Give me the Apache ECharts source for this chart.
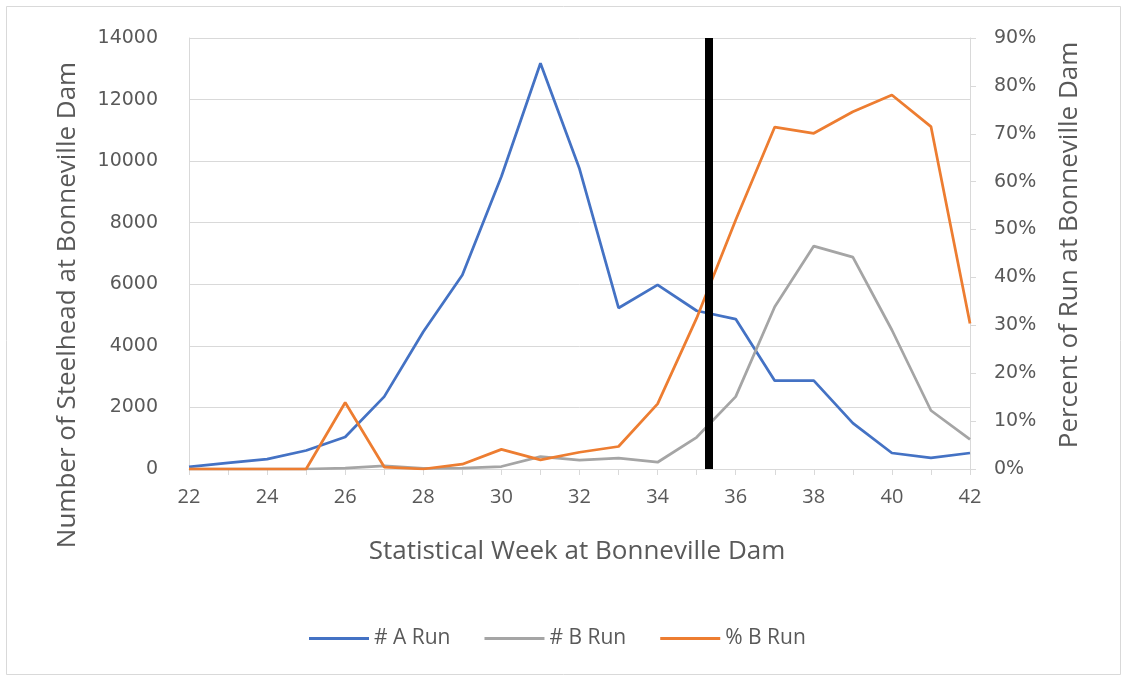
<!DOCTYPE html>
<html>
<head>
<meta charset="utf-8">
<script src="https://cdn.jsdelivr.net/npm/echarts@6/dist/echarts.min.js"></script>
<style>
  html, body { margin: 0; padding: 0; background: #fff; }
  #chart { width: 1122px; height: 676px; }
</style>
</head>
<body>
<div id="chart"></div>
<script>
const weeks = [22, 23, 24, 25, 26, 27, 28, 29, 30, 31, 32, 33, 34, 35, 36, 37, 38, 39, 40, 41, 42];
const aRun  = [70, 200, 320, 600, 1040, 2350, 4460, 6300, 9500, 13180, 9750, 5230, 5980, 5140, 4870, 2870, 2870, 1490, 520, 360, 520];
const bRun  = [0, 0, 0, 0, 30, 100, 20, 30, 80, 400, 290, 350, 220, 1030, 2350, 5270, 7240, 6880, 4515, 1900, 960];
const pctB  = [0, 0, 0, 0, 13.9, 0.4, 0, 1.0, 4.1, 1.9, 3.5, 4.7, 13.6, 31.5, 52, 71.4, 70.1, 74.6, 78.1, 71.5, 30.4];
const cutoffWeek = 35.3;
const seriesNames = ['# A Run', '# B Run', '% B Run'];
const leftTitle = 'Number of Steelhead at Bonneville Dam';
const rightTitle = 'Percent of Run at Bonneville Dam';
const xTitle = 'Statistical Week at Bonneville Dam';

const pair = arr => weeks.map((w, i) => [w, arr[i]]);
const txt = '#595959';
const grid = { left: 189, right: 152, top: 38, bottom: 207 };

const chart = echarts.init(document.getElementById('chart'), null, { renderer: 'canvas' });
chart.setOption({
  animation: false,
  backgroundColor: '#fff',
  grid: grid,
  legend: {
    data: seriesNames,
    left: 304,
    top: 623,
    itemWidth: 60,
    itemHeight: 3,
    itemGap: 34,
    icon: 'rect',
    textStyle: { color: txt, fontFamily: 'Open Sans', fontSize: 21 }
  },
  xAxis: {
    type: 'value',
    min: 22, max: 42, interval: 1,
    axisLine: { show: true, lineStyle: { color: '#d9d9d9', width: 1 } },
    axisTick: { show: true, length: 6, lineStyle: { color: '#d9d9d9' } },
    splitLine: { show: false },
    axisLabel: {
      color: txt, fontFamily: 'Open Sans', fontSize: 20, margin: 18,
      formatter: v => (v % 2 === 0 ? String(v) : '')
    }
  },
  yAxis: [
    {
      type: 'value', min: 0, max: 14000, interval: 2000,
      axisLine: { show: true, lineStyle: { color: '#d9d9d9' } },
      axisTick: { show: false },
      splitLine: { show: true, lineStyle: { color: '#d9d9d9', width: 1 } },
      axisLabel: { color: txt, fontFamily: 'DejaVu Sans', fontSize: 19, margin: 31, formatter: v => String(v) }
    },
    {
      type: 'value', min: 0, max: 90, interval: 10, position: 'right',
      axisLine: { show: true, lineStyle: { color: '#d9d9d9' } },
      axisTick: { show: true, length: 6, lineStyle: { color: '#d9d9d9' } },
      splitLine: { show: false },
      axisLabel: { color: txt, fontFamily: 'DejaVu Sans', fontSize: 19, margin: 24, formatter: v => v + '%' }
    }
  ],
  series: [
    {
      name: seriesNames[0], type: 'line', yAxisIndex: 0, data: pair(aRun),
      symbol: 'none', lineStyle: { color: '#4472C4', width: 2.75 }, itemStyle: { color: '#4472C4' }, z: 2
    },
    {
      name: seriesNames[1], type: 'line', yAxisIndex: 0, data: pair(bRun),
      symbol: 'none', lineStyle: { color: '#A5A5A5', width: 2.75 }, itemStyle: { color: '#A5A5A5' }, z: 2,
      markLine: {
        silent: true, symbol: ['none', 'none'], label: { show: false },
        lineStyle: { color: '#000', width: 8, type: 'solid' },
        data: [{ xAxis: cutoffWeek }],
        z: 5
      }
    },
    {
      name: seriesNames[2], type: 'line', yAxisIndex: 1, data: pair(pctB),
      symbol: 'none', lineStyle: { color: '#ED7D31', width: 2.75 }, itemStyle: { color: '#ED7D31' }, z: 3
    }
  ],
  graphic: [
    {
      type: 'rect', left: 4, top: 4, silent: true,
      shape: { width: 1114, height: 668 },
      style: { fill: 'none', stroke: '#d9d9d9', lineWidth: 1 }
    },
    {
      type: 'text', x: 68, y: 305, rotation: Math.PI / 2, silent: true,
      style: { text: leftTitle, fill: txt, font: '26px "Open Sans"', align: 'center', verticalAlign: 'middle' }
    },
    {
      type: 'text', x: 1070, y: 245, rotation: Math.PI / 2, silent: true,
      style: { text: rightTitle, fill: txt, font: '26px "Open Sans"', align: 'center', verticalAlign: 'middle' }
    },
    {
      type: 'text', x: 577, y: 552, silent: true,
      style: { text: xTitle, fill: txt, font: '26px "Open Sans"', align: 'center', verticalAlign: 'middle' }
    }
  ]
});
</script>
</body>
</html>
